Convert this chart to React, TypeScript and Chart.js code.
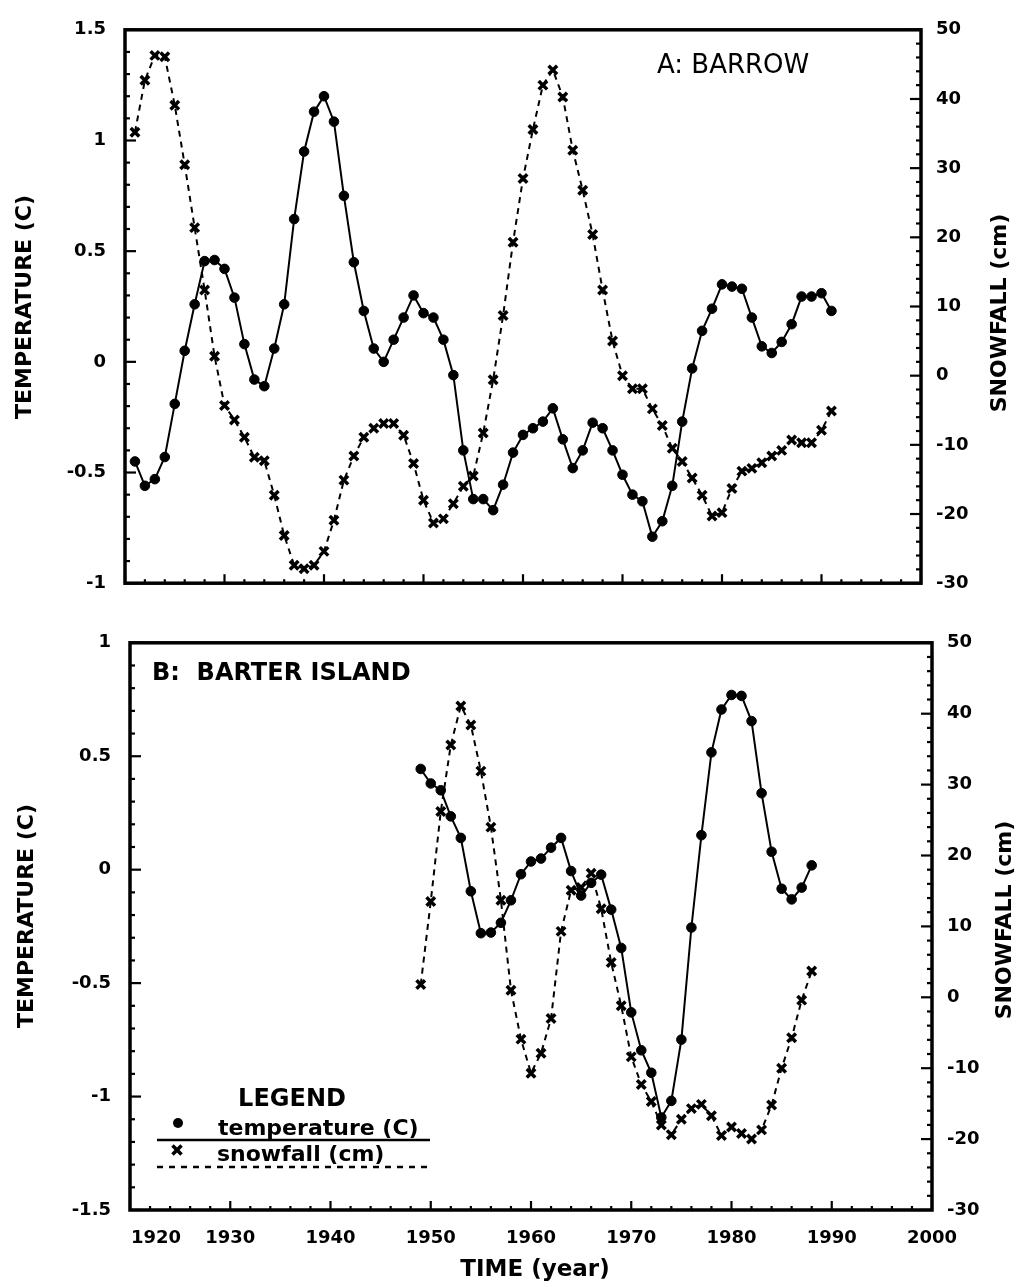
import React, { useEffect, useRef } from "react";
import { Chart, registerables } from "chart.js";

Chart.register(...registerables);

// ---------- data ----------
const barrowYears = [
  1921, 1922, 1923, 1924, 1925, 1926, 1927, 1928, 1929, 1930,
  1931, 1932, 1933, 1934, 1935, 1936, 1937, 1938, 1939, 1940,
  1941, 1942, 1943, 1944, 1945, 1946, 1947, 1948, 1949, 1950,
  1951, 1952, 1953, 1954, 1955, 1956, 1957, 1958, 1959, 1960,
  1961, 1962, 1963, 1964, 1965, 1966, 1967, 1968, 1969, 1970,
  1971, 1972, 1973, 1974, 1975, 1976, 1977, 1978, 1979, 1980,
  1981, 1982, 1983, 1984, 1985, 1986, 1987, 1988, 1989, 1990, 1991,
];
const barrowTemp = [
  -0.45, -0.56, -0.53, -0.43, -0.19, 0.05, 0.26, 0.455, 0.46, 0.42,
  0.29, 0.08, -0.08, -0.11, 0.06, 0.26, 0.645, 0.95, 1.13, 1.2,
  1.085, 0.75, 0.45, 0.23, 0.06, 0.0, 0.1, 0.2, 0.3, 0.22,
  0.2, 0.1, -0.06, -0.4, -0.62, -0.62, -0.67, -0.555, -0.41, -0.33,
  -0.3, -0.27, -0.21, -0.35, -0.48, -0.4, -0.275, -0.3, -0.4, -0.51,
  -0.6, -0.63, -0.79, -0.72, -0.56, -0.27, -0.03, 0.14, 0.24, 0.35,
  0.34, 0.33, 0.2, 0.07, 0.04, 0.09, 0.17, 0.295, 0.295, 0.31, 0.23,
];
const barrowSnow = [
  35.2, 42.7, 46.3, 46.1, 39.1, 30.5, 21.4, 12.4, 2.8, -4.3,
  -6.4, -8.9, -11.8, -12.3, -17.3, -23.1, -27.4, -27.9, -27.4, -25.4,
  -20.9, -15.1, -11.6, -8.9, -7.6, -6.9, -6.9, -8.6, -12.7, -18.0,
  -21.3, -20.7, -18.5, -16.0, -14.5, -8.3, -0.6, 8.7, 19.3, 28.5,
  35.6, 42.0, 44.2, 40.3, 32.6, 26.8, 20.4, 12.4, 5.0, 0.0,
  -1.9, -1.9, -4.8, -7.2, -10.5, -12.4, -14.8, -17.3, -20.3, -19.8,
  -16.3, -13.8, -13.4, -12.6, -11.6, -10.8, -9.3, -9.7, -9.7, -7.9, -5.1,
];

const barterYears = [
  1949, 1950, 1951, 1952, 1953, 1954, 1955, 1956, 1957, 1958,
  1959, 1960, 1961, 1962, 1963, 1964, 1965, 1966, 1967, 1968,
  1969, 1970, 1971, 1972, 1973, 1974, 1975, 1976, 1977, 1978,
  1979, 1980, 1981, 1982, 1983, 1984, 1985, 1986, 1987, 1988,
];
const barterTemp = [
  0.444, 0.38, 0.35, 0.235, 0.14, -0.095, -0.28, -0.277, -0.234, -0.135,
  -0.02, 0.036, 0.049, 0.097, 0.14, -0.006, -0.114, -0.058, -0.022, -0.176,
  -0.345, -0.629, -0.796, -0.895, -1.092, -1.019, -0.749, -0.255, 0.152, 0.517,
  0.706, 0.77, 0.766, 0.655, 0.337, 0.079, -0.084, -0.131, -0.079, 0.019,
];
const barterSnow = [
  1.8, 13.5, 26.2, 35.6, 41.1, 38.4, 31.9, 24.0, 13.7, 1.0,
  -5.9, -10.7, -7.9, -3.0, 9.3, 15.1, 15.5, 17.5, 12.5, 4.9,
  -1.2, -8.4, -12.3, -14.7, -18.0, -19.4, -17.2, -15.7, -15.1, -16.7,
  -19.5, -18.3, -19.2, -20.0, -18.7, -15.2, -10.0, -5.7, -0.4, 3.7,
];

const xTickLabels = ["1920", "1930", "1940", "1950", "1960", "1970", "1980", "1990", "2000"];
const tempTitle = "TEMPERATURE (C)";
const snowTitle = "SNOWFALL (cm)";
const timeTitle = "TIME (year)";
const panelA = "A: BARROW";
const panelB = "B:  BARTER ISLAND";
const legendTitle = "LEGEND";
const legendTemp = "temperature (C)";
const legendSnow = "snowfall (cm)";

// ---------- helpers ----------
const FONT = '"DejaVu Sans", "Liberation Sans", Arial, sans-serif';
const W = 1022;
const TOP_H = 613;
const BOT_H = 674;

type PanelCfg = {
  leftTitle: { x: number; y: number };
  rightTitle: { x: number; y: number };
  label: { text: string; x: number; y: number; font: string };
  bottomPanel: boolean;
};

function framePlugin(cfg: PanelCfg) {
  return {
    id: "frameTicks",
    afterDraw(chart: any) {
      const ctx: CanvasRenderingContext2D = chart.ctx;
      const a = chart.chartArea;
      const xs = chart.scales.x;
      const yl = chart.scales.y;
      const yr = chart.scales.y1;
      ctx.save();
      ctx.strokeStyle = "#000";
      ctx.fillStyle = "#000";
      ctx.setLineDash([]);
      const line = (x1: number, y1: number, x2: number, y2: number) => {
        ctx.beginPath();
        ctx.moveTo(x1, y1);
        ctx.lineTo(x2, y2);
        ctx.stroke();
      };
      const eachTick = (
        scale: any,
        minor: number,
        major: number,
        draw: (p: number, isMajor: boolean) => void
      ) => {
        const n = Math.round((scale.max - scale.min) / minor);
        for (let i = 0; i <= n; i++) {
          const v = scale.min + i * minor;
          const q = v / major;
          draw(scale.getPixelForValue(v), Math.abs(q - Math.round(q)) < 1e-6);
        }
      };
      ctx.lineWidth = 2.2;
      eachTick(yl, 0.1, 0.5, (p, m) => line(a.left, p, a.left + (m ? 11 : 5), p));
      eachTick(yr, 2, 10, (p, m) => line(a.right, p, a.right - (m ? 11 : 5), p));
      eachTick(xs, 2, 10, (p, m) => line(p, a.bottom, p, a.bottom - (m ? 9 : 4)));

      ctx.lineWidth = 3.5;
      ctx.strokeRect(a.left, a.top, a.right - a.left, a.bottom - a.top);

      // axis titles
      ctx.font = `bold 22px ${FONT}`;
      ctx.textAlign = "center";
      ctx.textBaseline = "middle";
      const vtext = (t: string, x: number, y: number) => {
        ctx.save();
        ctx.translate(x, y);
        ctx.rotate(-Math.PI / 2);
        ctx.fillText(t, 0, 0);
        ctx.restore();
      };
      vtext(tempTitle, cfg.leftTitle.x, cfg.leftTitle.y);
      vtext(snowTitle, cfg.rightTitle.x, cfg.rightTitle.y);

      // panel label
      ctx.font = cfg.label.font;
      ctx.textAlign = "left";
      ctx.textBaseline = "alphabetic";
      ctx.fillText(cfg.label.text, cfg.label.x, cfg.label.y);

      if (cfg.bottomPanel) {
        // first x label sits inside the axis start
        ctx.font = `bold 18px ${FONT}`;
        ctx.textAlign = "left";
        ctx.textBaseline = "alphabetic";
        ctx.fillText(xTickLabels[0], a.left + 1, a.bottom + 33);

        // x title
        ctx.font = `bold 23px ${FONT}`;
        ctx.textAlign = "center";
        ctx.fillText(timeTitle, 535, a.bottom + 66);

        // legend
        ctx.font = `bold 24px ${FONT}`;
        ctx.textAlign = "center";
        ctx.fillText(legendTitle, 292, a.bottom - 104);
        ctx.font = `bold 22px ${FONT}`;
        ctx.textAlign = "left";
        ctx.fillText(legendTemp, 218, a.bottom - 75);
        ctx.fillText(legendSnow, 217, a.bottom - 49);
        ctx.beginPath();
        ctx.arc(178, a.bottom - 87, 5, 0, Math.PI * 2);
        ctx.fill();
        ctx.lineWidth = 2.5;
        line(157, a.bottom - 70, 430, a.bottom - 70);
        ctx.lineWidth = 3.5;
        const cx = 177, cy = a.bottom - 60, r = 4.5;
        line(cx - r, cy - r, cx + r, cy + r);
        line(cx - r, cy + r, cx + r, cy - r);
        ctx.lineWidth = 2.5;
        ctx.setLineDash([6, 6]);
        line(157, a.bottom - 43, 430, a.bottom - 43);
        ctx.setLineDash([]);
      }
      ctx.restore();
    },
  };
}

function makeDatasets(years: number[], temp: number[], snow: number[]) {
  return [
    {
      label: legendTemp,
      data: years.map((x, i) => ({ x, y: temp[i] })),
      yAxisID: "y",
      borderColor: "#000",
      backgroundColor: "#000",
      borderWidth: 2,
      pointStyle: "circle",
      pointRadius: 4.8,
      pointBackgroundColor: "#000",
      pointBorderColor: "#000",
      pointBorderWidth: 1,
      tension: 0,
    },
    {
      label: legendSnow,
      data: years.map((x, i) => ({ x, y: snow[i] })),
      yAxisID: "y1",
      borderColor: "#000",
      backgroundColor: "#000",
      borderWidth: 2,
      borderDash: [6, 5],
      pointStyle: "crossRot",
      pointRadius: 6,
      pointBorderColor: "#000",
      pointBorderWidth: 3.5,
      tension: 0,
    },
  ];
}

const fmtY = (v: number) => String(Math.round(v * 10) / 10);

function buildConfig(
  bottomPanel: boolean,
  years: number[],
  temp: number[],
  snow: number[],
  cfg: PanelCfg
): any {
  const tickFont = { family: FONT, size: 18, weight: "bold" as const };
  const leftW = bottomPanel ? 130 : 125;
  const rightW = bottomPanel ? W - 932 : W - 921;
  return {
    type: "line",
    data: { datasets: makeDatasets(years, temp, snow) },
    options: {
      responsive: false,
      maintainAspectRatio: false,
      animation: false,
      devicePixelRatio: 1,
      layout: {
        padding: bottomPanel
          ? { top: 14, bottom: 0, left: 0, right: 0 }
          : { top: 21, bottom: 13, left: 0, right: 0 },
      },
      plugins: { legend: { display: false }, tooltip: { enabled: false }, title: { display: false } },
      scales: {
        x: {
          type: "linear",
          min: 1920,
          max: 2000,
          display: bottomPanel,
          grid: { display: false, drawTicks: false },
          border: { display: false },
          ticks: {
            stepSize: 10,
            padding: 18,
            color: "#000",
            font: tickFont,
            maxRotation: 0,
            autoSkip: false,
            callback: (v: number) => {
              const idx = Math.round((v - 1920) / 10);
              return idx === 0 ? "" : xTickLabels[idx] ?? "";
            },
          },
          afterFit: (s: any) => {
            s.height = bottomPanel ? BOT_H - 597 : 0;
          },
        },
        y: {
          position: "left",
          min: bottomPanel ? -1.5 : -1,
          max: bottomPanel ? 1 : 1.5,
          grid: { display: false, drawTicks: false },
          border: { display: false },
          ticks: { stepSize: 0.5, padding: 19, color: "#000", font: tickFont, callback: fmtY },
          afterFit: (s: any) => {
            s.width = leftW;
          },
        },
        y1: {
          position: "right",
          min: -30,
          max: 50,
          grid: { display: false, drawTicks: false },
          border: { display: false },
          ticks: { stepSize: 10, padding: 15, color: "#000", font: tickFont, callback: fmtY },
          afterFit: (s: any) => {
            s.width = rightW;
          },
        },
      },
    },
    plugins: [framePlugin(cfg)],
  };
}

export default function App() {
  const topRef = useRef<HTMLCanvasElement | null>(null);
  const botRef = useRef<HTMLCanvasElement | null>(null);

  useEffect(() => {
    const top = new Chart(
      topRef.current as HTMLCanvasElement,
      buildConfig(false, barrowYears, barrowTemp, barrowSnow, {
        leftTitle: { x: 25, y: 307 },
        rightTitle: { x: 1000, y: 313 },
        label: { text: panelA, x: 657, y: 73, font: `26px ${FONT}` },
        bottomPanel: false,
      })
    );
    const bot = new Chart(
      botRef.current as HTMLCanvasElement,
      buildConfig(true, barterYears, barterTemp, barterSnow, {
        leftTitle: { x: 27, y: 303 },
        rightTitle: { x: 1005, y: 307 },
        label: { text: panelB, x: 152, y: 67, font: `bold 24px ${FONT}` },
        bottomPanel: true,
      })
    );
    return () => {
      top.destroy();
      bot.destroy();
    };
  }, []);

  return (
    <div
      style={{
        position: "absolute",
        left: 0,
        top: 0,
        width: W,
        height: TOP_H + BOT_H,
        background: "#fff",
      }}
    >
      <canvas ref={topRef} width={W} height={TOP_H} style={{ display: "block" }} />
      <canvas ref={botRef} width={W} height={BOT_H} style={{ display: "block" }} />
    </div>
  );
}
